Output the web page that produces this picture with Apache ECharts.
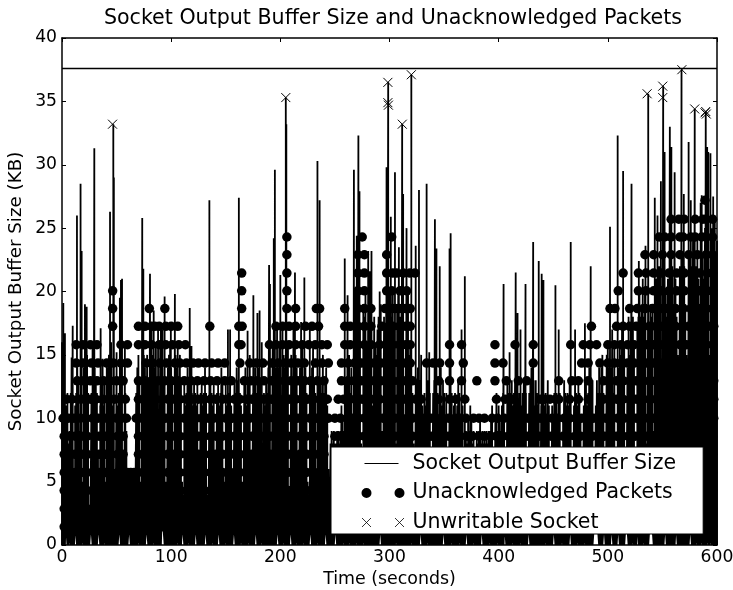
<!DOCTYPE html>
<html>
<head>
<meta charset="utf-8">
<style>
  html, body { margin: 0; padding: 0; background: #fff; }
  #chart { width: 733px; height: 590px; }
</style>
<script src="https://cdn.jsdelivr.net/npm/echarts@6/dist/echarts.min.js"></script>
</head>
<body>
<div id="chart"></div>
<script>
// one value per second, the dense part of the buffer trace
var bufferFloor = [
  16,9,6,5,11,12,8,9,12,11,7,6,11,12,14,13,9,12,6,5,14,12,13,15,12,3,4,12,16,11,
  14,13,12,7,6,11,13,12,11,13,5,4,14,15,12,16,11,13,6,5,14,11,12,13,16,12,7,6,12,9,
  6,6,6,6,6,6,6,6,12,14,15,13,5,4,16,15,14,13,15,13,7,6,17,15,12,14,16,13,7,6,
  16,14,17,13,12,5,3,14,15,16,14,13,7,6,15,14,16,13,15,13,5,4,13,11,12,14,13,6,5,12,
  11,13,12,11,13,7,6,12,13,11,12,14,12,4,3,12,13,12,11,13,7,6,12,13,11,12,14,13,6,5,
  13,11,12,12,14,11,6,5,13,12,14,13,15,12,11,5,3,13,14,11,12,13,15,7,6,12,13,14,12,13,
  14,11,13,5,4,12,11,13,12,14,13,7,6,16,15,13,14,17,14,16,6,5,17,15,14,13,15,16,4,3,
  15,13,16,14,15,14,7,6,14,13,16,13,15,14,12,5,4,15,13,14,16,13,12,6,5,13,14,13,12,15,
  12,13,14,11,6,5,8,9,8,9,8,8,9,9,8,9,11,10,9,15,13,12,11,15,12,14,10,9,17,20,
  19,18,20,17,8,7,19,18,20,16,15,14,16,17,11,10,18,16,15,17,18,20,19,9,8,18,17,19,20,18,
  20,16,18,20,17,9,8,19,20,18,18,19,17,10,9,16,18,20,15,16,14,12,8,7,11,13,14,12,13,15,
  11,10,12,11,12,13,11,12,7,6,12,13,12,11,12,10,13,14,11,13,12,10,12,7,6,11,13,12,10,11,
  12,10,11,13,12,10,9,11,7,6,9,8,10,9,11,10,8,9,7,6,9,8,9,10,8,9,8,9,8,9,
  8,9,9,10,11,7,6,10,12,9,11,10,9,11,12,10,7,6,13,12,10,12,13,11,12,13,11,7,6,12,
  13,11,12,13,11,12,7,5,12,13,14,12,13,11,13,12,11,7,6,11,12,10,11,12,10,13,11,7,6,11,
  10,12,13,12,10,11,12,6,5,10,13,12,11,12,11,13,12,7,6,11,13,12,11,13,12,10,7,6,11,12,
  13,11,12,14,11,12,13,6,4,11,13,12,14,12,14,15,12,7,5,15,16,14,16,14,17,12,16,5,3,15,
  14,16,15,17,13,16,6,5,14,18,15,17,17,18,16,6,4,17,18,20,18,19,21,18,20,8,7,22,17,19,
  18,19,9,8,21,18,20,22,17,9,8,19,22,20,18,21,14,13,20,22,19,23,21,18,15,14,22,20,23,21,
  22,19,15,14,21,23,20,22,24,16,15,22,24,21,19,16,15,23,21,25,24,22,16,15,23,25,22,24,26,23,
  24
]

// spikes that stand out of the dense part
var spikeTimes = [
  1.2,2.7,8.8,9.8,13.7,17,18,21,22.6,29.6,35.4,37.2,41,44,47,47.5,50,53,54,55,57.6,
  73.5,74.5,80.6,84,88,90.6,94,99.7,103.4,117,118.6,135,152,154,162,170,175.3,179,181,183,
  189.7,190.5,194,195,200,205,205.5,212,213.4,219,222,227,234,236,259,261.6,267.4,270,271.5,272.5,280.5,282,283.5,
  297.3,298.8,301.2,305,308.6,311.6,312.5,315.6,320,324,327,334,336.4,341.6,343,346,355,356,366,369,
  404.5,410,415.6,417.3,420,424.6,431.6,436.7,439.4,441,452,455,466,470,479,484.3,
  502,509,514,521.7,528.4,534.5,537,543,545.5,548.6,550.7,552,556.8,558.2,561.2,567.5,569.6,574,576,579.6,
  585,586,589.7,591,592,594,596.5
]
var spikeKb = [
  19.1,16.7,14.8,17.3,26,28.5,23.2,19,18.8,31.3,17.1,14.7,14.5,26.3,33.2,29,15.2,19.5,20.9,21,16,
  25.8,21.8,21.4,18.5,17.3,17,19.6,17,19.8,18.7,15.7,27.2,17,17,27.4,16.9,19.7,18.3,18.5,16,
  22.1,20.6,24.2,29.6,21.3,35.3,33.2,17.6,21.5,17.6,21.1,17,30.3,27.2,22.6,19.7,29.6,24.4,32.3,27.9,23.2,21.6,23.2,
  29.8,36.5,25.9,29.4,23.5,33.2,27.7,25,37.1,23.6,28,28.5,15.2,25.7,23.4,22,23.4,24.6,17,21.2,
  20.6,15.2,21.5,18.3,17,20.6,23.9,22.4,21.4,20.9,20.5,17,23.9,17,17.5,22,
  25.1,32.3,29.5,28.5,22.4,23.6,35.6,27.4,26,28.7,36.2,31,33,31.4,29.4,37.5,27.7,31.8,27.2,34.4,
  27,27.6,34.2,31.4,31,30.9,27.5
]
// seconds where the trace does not come back to zero
var raisedTroughs = [
  3,4,7,12,13,19,26,27,33,34,39,47,52,53,61,62,70,77,78,84,91,92,93,99,106,110,111,116,122,123,
  131,132,138,143,144,150,157,158,164,171,177,178,183,190,197,198,203,209,210,215,221,227,228,
  234,241,242,250,251,258,263,270,276,284,291,292,299,306,313,320,328,329,335,342,349,350,357,
  364,370,371,377,384,385,392,399,405,406,413,420,427,428,436,443,450,451,458,465,466,472,479,
  487,488,489,490,491,496,497,503,504,509,510,516,517,518,523,527,528,533,538,539,540,541,546,
  552,553,557,562,563,569,575,576,581,586,591,594
]

var bufferLimitTimes = [0, 600]
var bufferLimitKb = [37.6, 37.6]

// unacked packets, one size per row, times
var packetKb = [1.43,2.86,4.29,5.72,7.15,8.58,10,11.5,12.95,14.35,15.8,17.25,18.65,20.05,21.45,22.9,24.3,25.7,27.2]
var lowLevelTimes = [
  2,7,12,18,23,29,34,40,45,51,56,70,75,81,86,92,97,103,108,114,119,125,130,136,141,147,152,158,163,169,174,180,
  185,191,196,202,207,213,218,224,229,235,240,250,255,261,266,272,277,283,288,294,299,305,310,316,321,327,332,
  338,343,349,354,360,365,371,376,382,387,393,398,404,409,415,420,426,431,437,442,448,453,459,464,470,475,481,
  486,492,497,503,508,514,519,525,530,536,541,547,552,558,563,569,574,580,585,591,596
]
var notchTimes = [60,63,66]
var row7 = [
  1,6,11,17,22,28,33,39,44,50,55,59,68,73,79,84,90,95,101,106,112,117,123,128,134,139,145,150,156,161,167,172,178,
  183,189,194,200,205,211,216,222,227,233,238,244,250,255,261,266,272,277,283,288,294,299,305,310,316,321,327,332,
  338,343,349,354,360,365,370,377,382,387,394,399,405,410,416,421,427,432,438,443,449,454,460,465,471,476,482,487,
  493,498,504,509,515,520,526,531,537,542,548,553,559,564,570,575,581,586,592,597
]
var row8 = [
  4,9,15,20,26,31,37,42,48,53,58,70,75,81,86,92,97,103,108,114,119,125,130,136,141,147,152,158,163,169,174,180,185,
  192,197,203,208,214,219,225,230,236,241,243,253,258,264,269,275,280,286,291,297,302,307,313,318,324,329,345,355,
  361,369,398,406,413,438,442,447,452,455,465,473,482,496,502,508,514,520,526,532,538,544,550,556,562,568,574,580,
  586,592,597
]
var row9 = [
  14,20,26,32,38,44,50,56,70,76,82,88,94,100,106,112,118,124,130,136,142,149,155,167,173,179,185,192,198,204,210,216,
  222,228,234,240,256,262,268,274,280,286,292,298,303,309,315,321,345,355,366,380,396.6,407,418,425.6,455,467,473,
  482,496,502,508,514,520,526,532,538,544,550,556,562,568,574,580,586,592,597
]
var row10 = [
  13,19,27,33,41,47,54,60,77,83,89.7,95.8,103.4,108,114,120,125,131,137,143,149,163,172,178,184,192,198,204,210,216,222,
  232,238,244,256,262,268,274,280,286,292,298,303,309,315,319,334,340,346,355,367.6,396.6,404,431.7,
  476,482,492.7,500,506,512,518,524,530,536,542,548,554,560,566,572,578,584,590,596
]
var row11 = [
  13,19,26,32,54,60,70,76,82,89,95,101,107,113,162,164,190,196,202,208,214,220,226,232,238,243,259,264,271,277,283,291,300,
  303,309,315,319,355,366,396.6,415,431.7,466,477.5,483.5,489.7,500,506,512,518,524,530,536,542,548,554,560,566,572,578,584,590,596
]
var row12 = [
  46.4,70,76,82,85,89,95,100,106,135.4,162,165,196,202,208,214,223,229,235,
  259,264,271,277,283,293,299,303,309,315,319,
  485,508,514,520,526,532,538,544,550,556,562,568,574,580,586,592,597
]
var row13 = [46.4,80,94.2,164.6,206,214,233,236,259,271,277,283,296,302,305,309,315,319,502,506.5,520,527,534,541,548,555,562,569,576,583,590,596]
var row14 = [46.4,164.6,206,271,277,297.4,302,309.6,315.7,509.5,528,535,542,549,556,563,570,577,584,591,596]
var row15 = [164.6,206,271,277,297.4,303,306.5,312.6,318.7,323.3,514,528,535,542,549,556,563,570,577,584,591,596]
var row16 = [206,271,277,297.4,534,542,550,558,566,574,582,590,596]
var row17 = [206,275,302,547,552,558,566,569,576,580,586,590,596]
var row18 = [558,565,570,580,587,590,596]
var row19 = [589]

var unwritableTimes = [46.3,205,298.5,298.5,299,311.7,320,536,550.3,550.3,567.8,579.6,589,589.7,590.2]
var unwritableKb = [33.2,35.3,36.5,34.9,34.7,33.2,37.1,35.6,36.2,35.3,37.5,34.4,34.1,34.2,34]

var fontName = '"DejaVu Sans", sans-serif'

var spikes = []
bufferFloor.forEach(function (v, i) { spikes.push([i, v]) })
spikeTimes.forEach(function (t, i) { spikes.push([t, spikeKb[i]]) })
spikes.sort(function (a, b) { return a[0] - b[0] })

var bufferLine = []
spikes.forEach(function (s) {
  var low = raisedTroughs.indexOf(s[0]) >= 0 ? 1.25 : 0
  bufferLine.push([s[0], low], [s[0], s[1]], [s[0], low])
})

var rows = [
  lowLevelTimes.concat(notchTimes), lowLevelTimes.concat(notchTimes), lowLevelTimes.concat(notchTimes),
  lowLevelTimes.concat(notchTimes), lowLevelTimes, lowLevelTimes,
  row7, row8, row9, row10, row11, row12, row13, row14, row15, row16, row17, row18, row19
]
var packetPoints = []
rows.forEach(function (times, r) {
  times.forEach(function (t) { packetPoints.push([t, packetKb[r]]) })
})

var xMarker = 'path://M0 0L10 10M10 0L0 10'
// legend glyphs carry empty corners so the box keeps its 46x10 shape
var corners = 'M0 0L0 0ZM46 10L46 10Z'

var chart = echarts.init(document.getElementById('chart'))
chart.setOption({
  animation: false,
  backgroundColor: '#fff',
  title: {
    text: 'Socket Output Buffer Size and Unacknowledged Packets',
    left: 388,
    top: 3,
    textAlign: 'center',
    textStyle: { color: '#000', fontFamily: fontName, fontSize: 20.6, fontWeight: 'normal' }
  },
  grid: { left: 62, right: 16, top: 38, bottom: 45, outerBoundsMode: 'none' },
  legend: {
    left: 331,
    top: 447,
    orient: 'vertical',
    backgroundColor: '#fff',
    borderColor: '#000',
    borderWidth: 1,
    padding: [6, 27, 1, 28],
    itemWidth: 46,
    itemHeight: 10,
    itemGap: 8.5,
    textStyle: { color: '#000', fontFamily: fontName, fontSize: 20.5 },
    data: [
      {
        name: 'Socket Output Buffer Size',
        icon: 'path://' + corners + 'M3 4.6H37V5.4H3Z',
        itemStyle: { color: '#000' }
      },
      {
        name: 'Unacknowledged Packets',
        icon: 'path://' + corners + 'M0 5a5 5 0 1 0 10 0a5 5 0 1 0 -10 0ZM33 5a5 5 0 1 0 10 0a5 5 0 1 0 -10 0Z',
        itemStyle: { color: '#000' }
      },
      {
        name: 'Unwritable Socket',
        icon: 'path://' + corners + 'M0.5 0.5L9.5 9.5M9.5 0.5L0.5 9.5M33.5 0.5L42.5 9.5M42.5 0.5L33.5 9.5',
        itemStyle: { color: 'none', borderColor: '#000', borderWidth: 0.8 }
      }
    ]
  },
  xAxis: [
    {
      type: 'value',
      min: 0,
      max: 600,
      interval: 100,
      name: 'Time (seconds)',
      nameLocation: 'middle',
      nameGap: 26,
      nameMoveOverlap: false,
      nameTextStyle: { color: '#000', fontFamily: fontName, fontSize: 17.4 },
      axisLine: { onZero: false, lineStyle: { color: '#000', width: 1.5 } },
      axisTick: { inside: true, length: 4, lineStyle: { color: '#000' } },
      axisLabel: { color: '#000', fontFamily: fontName, fontSize: 17.2, margin: 4, showMinLabel: true, showMaxLabel: true },
      splitLine: { show: false }
    },
    {
      type: 'value',
      position: 'top',
      min: 0,
      max: 600,
      interval: 100,
      axisLine: { onZero: false, lineStyle: { color: '#000', width: 1.5 } },
      axisTick: { inside: true, length: 4, lineStyle: { color: '#000' } },
      axisLabel: { show: false },
      splitLine: { show: false }
    }
  ],
  yAxis: [
    {
      type: 'value',
      min: 0,
      max: 40,
      interval: 5,
      name: 'Socket Output Buffer Size (KB)',
      nameLocation: 'middle',
      nameGap: 37,
      nameMoveOverlap: false,
      nameTextStyle: { color: '#000', fontFamily: fontName, fontSize: 18.3 },
      axisLine: { onZero: false, lineStyle: { color: '#000', width: 1.5 } },
      axisTick: { inside: true, length: 4, lineStyle: { color: '#000' } },
      axisLabel: { color: '#000', fontFamily: fontName, fontSize: 17.2, margin: 5, showMinLabel: true, showMaxLabel: true },
      splitLine: { show: false }
    },
    {
      type: 'value',
      position: 'right',
      min: 0,
      max: 40,
      interval: 5,
      axisLine: { onZero: false, lineStyle: { color: '#000', width: 1.5 } },
      axisTick: { inside: true, length: 4, lineStyle: { color: '#000' } },
      axisLabel: { show: false },
      splitLine: { show: false }
    }
  ],
  series: [
    {
      name: 'Socket Output Buffer Size',
      type: 'line',
      data: bufferLine,
      showSymbol: false,
      symbol: 'none',
      sampling: false,
      lineStyle: { color: '#000', width: 1.8, join: 'bevel' },
      itemStyle: { color: '#000' },
      silent: true
    },
    {
      name: 'Buffer Limit',
      type: 'line',
      data: bufferLimitTimes.map(function (t, i) { return [t, bufferLimitKb[i]] }),
      showSymbol: false,
      symbol: 'none',
      lineStyle: { color: '#000', width: 1.5 },
      silent: true
    },
    {
      name: 'Unacknowledged Packets',
      type: 'scatter',
      data: packetPoints,
      symbol: 'circle',
      symbolSize: 9.5,
      clip: true,
      itemStyle: { color: '#000', opacity: 1 },
      silent: true
    },
    {
      name: 'Unwritable Socket',
      type: 'scatter',
      data: unwritableTimes.map(function (t, i) { return [t, unwritableKb[i]] }),
      symbol: xMarker,
      symbolSize: 9,
      itemStyle: { color: 'none', borderColor: '#000', borderWidth: 1, opacity: 1 },
      silent: true
    }
  ]
})
</script>
</body>
</html>
